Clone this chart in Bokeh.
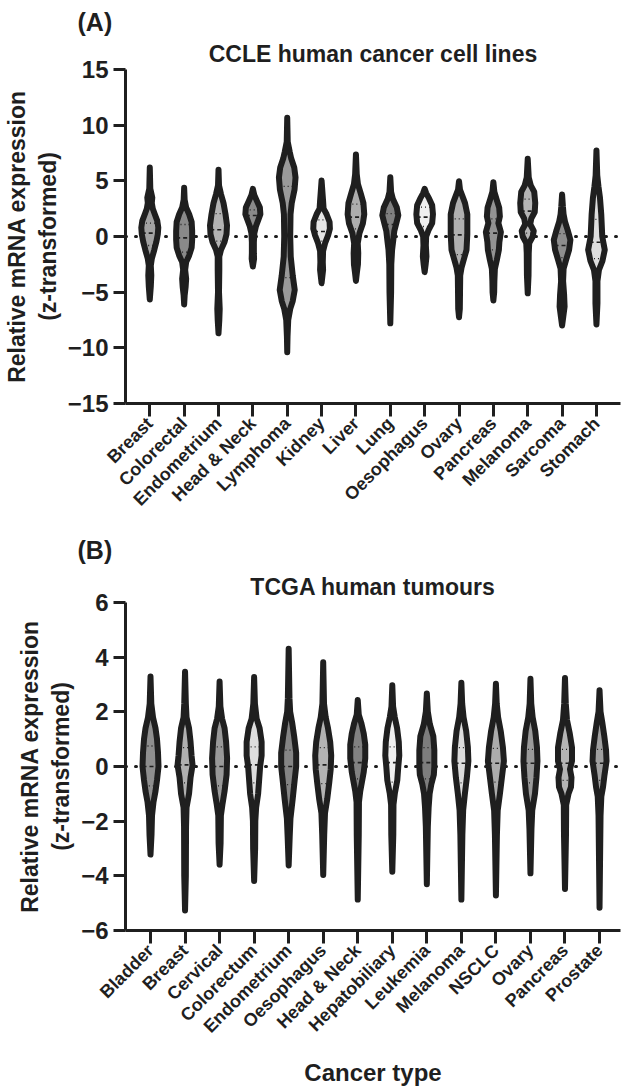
import numpy as np
from bokeh.plotting import figure
from bokeh.models import FixedTicker, Span, Title, Range1d, ColumnDataSource
from bokeh.layouts import column
from bokeh.embed import file_html
from bokeh.resources import INLINE

# ---------------- data: panel A (CCLE) ----------------
ccle_types = ["Breast", "Colorectal", "Endometrium", "Head & Neck", "Lymphoma", "Kidney",
              "Liver", "Lung", "Oesophagus", "Ovary", "Pancreas", "Melanoma", "Sarcoma", "Stomach"]
ccle_median = [0.3, -0.12, 0.6, 1.89, 0.18, 0.45, 1.74, 1.08, 1.74, 0.15, 0.3, 2.28, -0.81, -0.51]
ccle_q3 = [1.2, 1.08, 2.05, 2.4, 4.5, 1.5, 2.9, 2.05, 2.63, 1.59, 1.59, 3.35, 0.25, 1.53]
ccle_q1 = [-0.81, -1.4, -0.42, 0.9, -3.7, -0.42, 0.69, 0.0, 0.9, -1.62, -1.2, 0.3, -1.9, -1.99]
# violin outline: expression levels (top to bottom) and relative density at each level
ccle_levels = [
    [6.2, 4.3, 3.5, 3.0, 2.5, 2.0, 1.4, 0.8, 0.2, -0.5, -1.2, -2.0, -2.6, -3.5, -4.5, -5.65],
    [4.37, 3.3, 2.6, 2.0, 1.3, 0.5, -0.3, -1.0, -1.7, -2.3, -3.0, -3.8, -4.5, -5.3, -6.1],
    [6.0, 4.6, 3.8, 3.0, 2.0, 1.0, 0.2, -0.5, -1.2, -1.8, -3.0, -5.0, -6.5, -7.5, -8.7],
    [4.28, 3.7, 3.2, 2.6, 2.0, 1.5, 0.9, 0.3, -0.5, -1.5, -2.0, -2.7],
    [10.66, 8.5, 7.6, 7.0, 6.2, 5.3, 4.2, 3.0, 2.0, 0.0, -1.8, -3.5, -4.8, -5.8, -6.5, -7.5, -9.0, -10.4],
    [5.03, 3.8, 3.2, 2.5, 2.0, 1.3, 0.7, 0.1, -0.6, -1.3, -2.3, -3.0, -4.2],
    [7.37, 5.6, 4.7, 3.8, 3.0, 2.0, 1.2, 0.3, -0.6, -1.5, -2.5, -3.2, -4.0],
    [5.33, 4.0, 3.4, 2.6, 1.9, 1.2, 0.5, -0.3, -1.2, -2.5, -5.0, -7.8],
    [4.28, 3.9, 3.4, 2.8, 2.0, 1.2, 0.6, 0.0, -0.8, -1.8, -2.5, -3.2],
    [4.97, 4.2, 3.6, 3.0, 2.0, 0.2, -1.2, -2.0, -2.8, -3.5, -5.0, -6.5, -7.25],
    [4.88, 4.0, 3.4, 2.6, 1.8, 1.2, 0.4, -0.5, -1.2, -2.1, -2.9, -4.0, -5.0, -5.75],
    [6.98, 5.3, 4.6, 4.0, 3.0, 2.2, 1.6, 1.1, 0.5, 0.0, -0.6, -1.5, -3.5, -5.1],
    [3.77, 2.7, 2.0, 1.3, 0.6, -0.3, -1.2, -2.1, -2.9, -4.0, -5.2, -6.3, -7.2, -8.0],
    [7.73, 5.5, 4.5, 3.5, 2.0, 0.0, -1.2, -2.2, -3.0, -4.0, -6.0, -7.9],
]
ccle_density = [
    [0, 0.5, 2.5, 2, 3, 5, 7.5, 8.5, 8, 6.5, 4.5, 2, 1, 1.5, 1, 0],
    [0, 0.5, 2, 5, 7.5, 8, 8, 7.5, 5, 2, 1, 2, 1.5, 0.5, 0],
    [0, 0.5, 2.5, 5, 7, 8.5, 8, 6, 2.5, 0.8, 0.8, 0.5, 1.2, 0.8, 0],
    [0, 1.5, 4, 7, 7.5, 5.5, 3, 1.5, 1, 1, 1.2, 0],
    [0, 0.5, 2.5, 4, 7, 8.3, 7.3, 4.5, 3.3, 3, 3.5, 5.5, 7.5, 5.5, 3, 1, 0.3, 0],
    [0, 1, 1.5, 2, 5, 8, 8.3, 6.5, 3.5, 1.5, 1.2, 1.5, 0],
    [0, 0.8, 2, 5, 7.5, 8.3, 7, 3.5, 1.8, 2.3, 2, 1, 0],
    [0, 0.8, 2.5, 6.5, 8, 6, 4, 3, 1.8, 1, 0.8, 0],
    [0, 1.5, 4.5, 7.5, 8.3, 7.5, 4, 1.5, 1.2, 1.8, 1, 0],
    [0, 1, 3.5, 6, 8.3, 8.3, 7.5, 5, 2.5, 1.2, 1, 0.8, 0],
    [0, 1, 3, 5.8, 6.5, 5, 7.5, 6, 5.5, 3.5, 1.5, 1, 0.8, 0],
    [0, 1, 3, 6.5, 7.5, 7, 3.5, 2.5, 6, 5, 1.5, 1, 0.8, 0],
    [0, 0.8, 1.5, 3, 5.5, 8.3, 7, 4, 1.5, 1, 2, 2.5, 1.2, 0],
    [0, 0.8, 2, 3.5, 4.8, 5.8, 8.3, 6, 2.5, 1, 1, 0],
]
ccle_fill = ["#a3a3a3", "#8a8a8a", "#b3b3b3", "#8a8a8a", "#9a9a9a", "#e6e6e6", "#adadad",
             "#808080", "#efefef", "#b0b0b0", "#939393", "#b5b5b5", "#8e8e8e", "#dedede"]
ccle_yticks = [-15, -10, -5, 0, 5, 10, 15]

# ---------------- data: panel B (TCGA) ----------------
tcga_types = ["Bladder", "Breast", "Cervical", "Colorectum", "Endometrium", "Oesophagus", "Head & Neck",
              "Hepatobiliary", "Leukemia", "Melanoma", "NSCLC", "Ovary", "Pancreas", "Prostate"]
tcga_median = [0.0, 0.06, 0.0, 0.06, 0.0, 0.06, 0.14, 0.14, 0.14, 0.12, 0.12, 0.12, 0.12, 0.12]
tcga_q3 = [0.75, 0.69, 0.72, 0.72, 0.6, 0.69, 0.72, 0.72, 0.69, 0.69, 0.66, 0.63, 0.63, 0.63]
tcga_q1 = [-0.71, -0.6, -0.71, -0.6, -0.66, -0.63, -0.45, -0.57, -0.45, -0.6, -0.57, -0.6, -0.51, -0.51]
tcga_levels = [
    [3.29, 2.3, 1.8, 1.4, 1.0, 0.5, 0.0, -0.5, -0.9, -1.3, -1.8, -2.5, -3.22],
    [3.47, 2.3, 1.8, 1.4, 0.9, 0.4, 0.05, -0.4, -1.0, -1.5, -2.2, -4.0, -5.27],
    [3.11, 2.2, 1.75, 1.4, 0.9, 0.3, -0.3, -0.9, -1.35, -1.8, -2.8, -3.59],
    [3.27, 2.3, 1.75, 1.4, 0.9, 0.4, 0.0, -0.5, -1.0, -1.5, -2.0, -3.0, -4.19],
    [4.31, 2.5, 2.0, 1.6, 1.1, 0.5, 0.0, -0.5, -1.2, -1.9, -2.6, -3.62],
    [3.81, 2.3, 1.8, 1.4, 0.9, 0.4, -0.1, -0.6, -1.2, -1.7, -2.5, -3.97],
    [2.43, 1.9, 1.6, 1.2, 0.8, 0.3, -0.2, -0.5, -0.9, -1.3, -2.5, -4.87],
    [2.97, 2.2, 1.8, 1.4, 0.9, 0.4, 0.0, -0.5, -1.0, -1.4, -2.5, -3.85],
    [2.67, 2.0, 1.55, 1.1, 0.6, 0.0, -0.3, -0.65, -1.0, -1.5, -2.2, -4.31],
    [3.06, 2.3, 1.8, 1.3, 0.7, 0.2, -0.4, -1.0, -1.6, -2.5, -4.87],
    [3.03, 2.3, 1.8, 1.3, 0.7, 0.2, -0.4, -1.0, -1.6, -2.5, -4.72],
    [3.21, 2.3, 1.8, 1.3, 0.7, 0.2, -0.4, -1.0, -1.6, -2.3, -3.91],
    [3.24, 2.3, 1.7, 1.2, 0.7, 0.2, -0.1, -0.4, -0.75, -1.0, -1.4, -2.5, -4.48],
    [2.79, 2.0, 1.6, 1.1, 0.6, 0.2, -0.3, -0.75, -1.1, -1.8, -5.17],
]
tcga_density = [
    [0, 0.8, 2.5, 5, 6.5, 7.5, 8, 6.5, 5, 3, 1.5, 1, 0],
    [0, 0.8, 1.5, 4, 5.5, 6.5, 7.5, 5.5, 4, 1.5, 1, 0.8, 0],
    [0, 0.8, 2.5, 5, 6.5, 7.5, 7, 5, 3, 1.3, 1, 0],
    [0, 0.8, 2.5, 5.5, 7.5, 7.5, 6, 5, 4, 2, 1.2, 1, 0],
    [0, 0.8, 1.5, 3.5, 5.5, 7.5, 7.5, 6, 4, 1.8, 1, 0],
    [0, 0.8, 2.5, 4.8, 7, 8, 7.5, 6, 4, 1.8, 1, 0],
    [0, 1, 3.5, 6, 7.5, 7.5, 6, 4.5, 2.5, 1.2, 1, 0],
    [0, 0.8, 2.5, 4.8, 6.5, 7, 6, 5, 2.5, 1.2, 1, 0],
    [0, 1, 3, 6.5, 7.5, 7.5, 7, 4.5, 2.8, 1.8, 1, 0],
    [0, 0.8, 2.2, 4.8, 6.5, 7, 5.5, 3.5, 1.8, 1, 0],
    [0, 0.8, 2.2, 4.8, 7, 8, 6, 4, 1.8, 1, 0],
    [0, 0.8, 2.2, 4.8, 6.5, 7, 6, 4.5, 1.8, 1, 0],
    [0, 0.8, 2, 4.8, 7, 7, 5, 6.5, 6, 3.5, 1.2, 1, 0],
    [0, 1, 2.8, 4.8, 6.5, 7, 5, 3.5, 1.8, 1, 0],
]
tcga_fill = ["#8f8f8f", "#b0b0b0", "#999999", "#dedede", "#858585", "#b3b3b3", "#828282",
             "#efefef", "#7d7d7d", "#dcdcdc", "#adadad", "#9a9a9a", "#b5b5b5", "#a0a0a0"]
tcga_yticks = [-6, -4, -2, 0, 2, 4, 6]

# ---------------- styling ----------------
FONT = "Liberation Sans"
INK = "#1f1f1f"
W = 625


def violin_panel(height, border_top, border_bottom, x_range, y_range, yticks, types,
                 levels, density, fill, median, q1, q3, title, tag, tag_standoff, xlabel,
                 width_scale):
    p = figure(width=W, height=height, x_range=x_range, y_range=y_range,
               output_backend="svg", toolbar_location=None, title=None,
               min_border_left=125, min_border_right=5,
               min_border_top=border_top, min_border_bottom=border_bottom)
    p.outline_line_color = None
    p.xgrid.visible = False
    p.ygrid.visible = False
    p.background_fill_color = "white"
    p.border_fill_color = "white"

    zero = Span(location=0, dimension="width", line_color=INK, line_width=3,
                line_dash="1 9", line_cap="round", level="underlay")
    p.add_layout(zero)

    xs, ys = [], []
    mx0, mx1, my = [], [], []
    qx0, qx1, qy = [], [], []
    for i, (lv, dn) in enumerate(zip(levels, density)):
        lv = np.asarray(lv, float)
        hw = np.asarray(dn, float) * width_scale
        xs.append(list(i + hw) + list(i - hw[::-1]))
        ys.append(list(lv) + list(lv[::-1]))
        asc_y, asc_w = lv[::-1], hw[::-1]
        w = np.interp(median[i], asc_y, asc_w)
        mx0.append(i - w); mx1.append(i + w); my.append(median[i])
        for q in (q1[i], q3[i]):
            wq = np.interp(q, asc_y, asc_w)
            qx0.append(i - wq); qx1.append(i + wq); qy.append(q)

    src = ColumnDataSource(dict(xs=xs, ys=ys, fill=fill))
    p.patches("xs", "ys", source=src, fill_color="fill", line_color=INK,
              line_width=6, line_join="round")
    p.segment(x0=mx0, x1=mx1, y0=my, y1=my, line_color=INK, line_width=1.6, line_dash="4 3")
    p.segment(x0=qx0, x1=qx1, y0=qy, y1=qy, line_color=INK, line_width=1.3, line_dash="1 3")

    # axes
    p.yaxis.ticker = FixedTicker(ticks=yticks)
    p.yaxis.minor_tick_line_color = None
    p.xaxis.ticker = FixedTicker(ticks=list(range(len(types))))
    p.xaxis.major_label_overrides = {i: t for i, t in enumerate(types)}
    p.xaxis.major_label_orientation = np.pi / 4
    p.xaxis.minor_tick_line_color = None
    for ax in (p.xaxis, p.yaxis):
        ax.axis_line_width = 3
        ax.axis_line_color = INK
        ax.major_tick_line_width = 3
        ax.major_tick_line_color = INK
        ax.major_tick_in = 0
        ax.major_label_text_font = FONT
        ax.major_label_text_font_style = "bold"
        ax.major_label_text_color = INK
        ax.axis_label_text_font = FONT
        ax.axis_label_text_font_style = "bold"
        ax.axis_label_text_color = INK
    p.yaxis.major_tick_out = 12
    p.xaxis.major_tick_out = 13
    p.yaxis.major_label_text_font_size = "24px"
    p.xaxis.major_label_text_font_size = "18px"
    p.yaxis.major_label_standoff = 5
    p.xaxis.major_label_standoff = 4
    p.yaxis.axis_label = "Relative mRNA expression\n(z-transformed)"
    p.yaxis.axis_label_text_font_size = "23px"
    p.yaxis.axis_label_standoff = 4
    if xlabel:
        p.xaxis.axis_label = xlabel
        p.xaxis.axis_label_text_font_size = "24px"
        p.xaxis.axis_label_standoff = 12

    p.add_layout(Title(text=title, align="center", text_font=FONT, text_font_style="bold",
                       text_font_size="23px", text_color=INK, standoff=6,
                       text_line_height=0.8), "above")
    p.add_layout(Title(text=tag, align="left", offset=-48, text_font=FONT,
                       text_font_style="bold", text_font_size="25px", text_color=INK,
                       standoff=tag_standoff), "above")
    return p


pa = violin_panel(528, 69, 125, Range1d(-0.707, 13.70), Range1d(-15, 15), ccle_yticks,
                  ccle_types, ccle_levels, ccle_density, ccle_fill, ccle_median, ccle_q1, ccle_q3,
                  "CCLE human cancer cell lines", "(A)", 0, None, 1 / 34.35)
pb = violin_panel(560, 70, 156, Range1d(-0.724, 13.607), Range1d(-6, 6), tcga_yticks,
                  tcga_types, tcga_levels, tcga_density, tcga_fill, tcga_median, tcga_q1, tcga_q3,
                  "TCGA human tumours", "(B)", 10, "Cancer type", 1 / 34.54)

layout = column(pa, pb, spacing=0)
open("out.html", "w").write(file_html(layout, INLINE))
